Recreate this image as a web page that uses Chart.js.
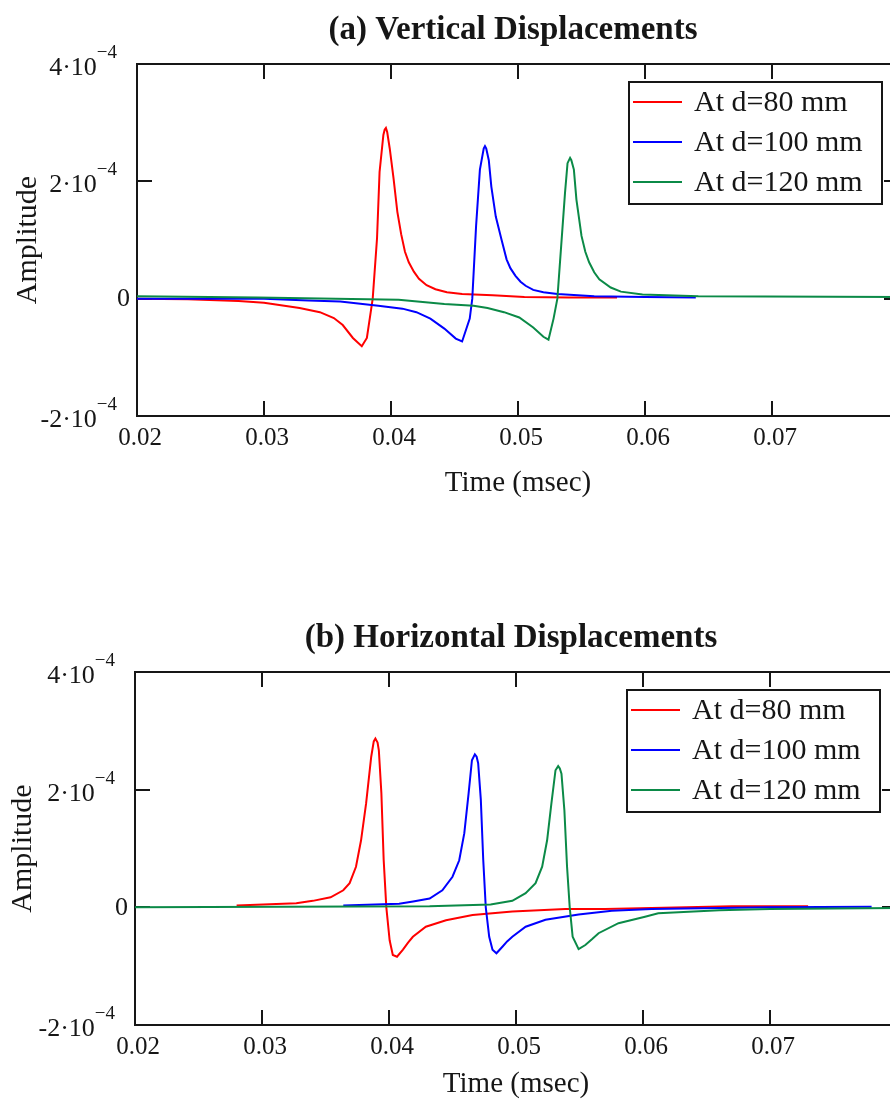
<!DOCTYPE html>
<html>
<head>
<meta charset="utf-8">
<title>Vertical and Horizontal Displacements</title>
<script src="https://cdn.jsdelivr.net/npm/chart.js@4.4.1/dist/chart.umd.min.js"></script>
<style>
    html, body { margin: 0; padding: 0; background: #fff; overflow: hidden; }
    body { width: 890px; height: 1103px; position: relative; }
    .panel { position: absolute; left: 0; width: 910px; }
    #panelA { top: 0; height: 552px; }
    #panelB { top: 552px; height: 551px; }
</style>
</head>
<body>
<div class="panel" id="panelA"><canvas id="chartA" width="910" height="552"></canvas></div>
<div class="panel" id="panelB"><canvas id="chartB" width="910" height="551"></canvas></div>
<script>
// Axis ticks (amplitude is kept in units of 10^-4)
const timeTicks = [0.02, 0.03, 0.04, 0.05, 0.06, 0.07];
const ampTicks = [-2, 0, 2, 4];
const ampExponent = -4;

const seriesLabels = ['At d=80 mm', 'At d=100 mm', 'At d=120 mm'];

// (a) Vertical displacements
const timeVert80 = [0.020, 0.024, 0.028, 0.030, 0.0328, 0.0344, 0.0355, 0.0362, 0.0370, 0.0377, 0.0381, 0.03856, 0.0389, 0.0391, 0.0394, 0.0395, 0.0396, 0.0397, 0.0399, 0.0402, 0.0405, 0.0408, 0.0411, 0.0414, 0.0418, 0.0422, 0.0428, 0.0435, 0.0444, 0.0456, 0.0480, 0.0505, 0.0540, 0.0578];
const ampVert80 = [0.00, -0.01, -0.04, -0.07, -0.16, -0.23, -0.33, -0.45, -0.67, -0.81, -0.67, 0.00, 1.03, 2.16, 2.79, 2.88, 2.91, 2.84, 2.56, 2.05, 1.48, 1.10, 0.80, 0.62, 0.46, 0.34, 0.23, 0.16, 0.11, 0.08, 0.06, 0.03, 0.02, 0.02];

const timeVert100 = [0.020, 0.030, 0.0335, 0.036, 0.039, 0.0409, 0.0420, 0.0431, 0.0442, 0.0451, 0.0456, 0.0462, 0.0464, 0.0467, 0.0470, 0.0473, 0.0474, 0.0475, 0.0477, 0.0479, 0.04825, 0.0487, 0.0491, 0.0494, 0.0498, 0.0502, 0.0506, 0.0512, 0.0520, 0.0531, 0.0560, 0.0600, 0.0640];
const ampVert100 = [0.00, 0.00, -0.03, -0.05, -0.12, -0.17, -0.23, -0.34, -0.51, -0.68, -0.73, -0.34, 0.00, 1.24, 2.20, 2.56, 2.60, 2.56, 2.36, 1.91, 1.40, 1.01, 0.67, 0.52, 0.39, 0.29, 0.22, 0.15, 0.11, 0.08, 0.04, 0.03, 0.02];

const timeVert120 = [0.020, 0.0295, 0.0406, 0.0442, 0.0465, 0.0476, 0.0489, 0.0501, 0.0512, 0.0520, 0.0524, 0.0528, 0.0531, 0.0534, 0.0537, 0.0539, 0.0541, 0.0542, 0.0544, 0.0546, 0.0550, 0.0553, 0.0556, 0.0560, 0.0564, 0.0573, 0.0581, 0.0598, 0.0642, 0.0800];
const ampVert120 = [0.04, 0.02, -0.02, -0.09, -0.12, -0.16, -0.23, -0.32, -0.49, -0.65, -0.70, -0.34, 0.00, 0.90, 1.80, 2.31, 2.40, 2.36, 2.20, 1.69, 1.07, 0.80, 0.62, 0.45, 0.33, 0.19, 0.12, 0.07, 0.04, 0.03];

// (b) Horizontal displacements
const timeHoriz80 = [0.028, 0.0327, 0.0340, 0.0354, 0.0364, 0.0369, 0.0374, 0.0378, 0.0382, 0.0386, 0.0388, 0.03893, 0.0391, 0.0392, 0.0394, 0.03958, 0.03979, 0.04005, 0.0403, 0.04063, 0.0411, 0.0415, 0.04188, 0.0429, 0.04449, 0.04658, 0.04971, 0.05389, 0.0570, 0.0607, 0.0670, 0.0730];
const ampHoriz80 = [0.03, 0.07, 0.11, 0.17, 0.29, 0.41, 0.69, 1.14, 1.77, 2.56, 2.82, 2.87, 2.80, 2.67, 1.94, 0.81, 0.00, -0.56, -0.81, -0.84, -0.72, -0.60, -0.50, -0.33, -0.22, -0.13, -0.07, -0.03, -0.03, -0.01, 0.02, 0.02];

const timeHoriz100 = [0.0364, 0.0408, 0.0419, 0.0432, 0.0442, 0.0450, 0.04553, 0.04593, 0.04627, 0.04653, 0.04676, 0.04690, 0.04702, 0.04723, 0.04742, 0.04762, 0.04789, 0.04815, 0.04846, 0.04893, 0.04930, 0.04971, 0.05076, 0.05232, 0.05493, 0.05755, 0.06068, 0.0700, 0.0780];
const ampHoriz100 = [0.03, 0.06, 0.10, 0.15, 0.29, 0.52, 0.80, 1.26, 1.94, 2.50, 2.60, 2.56, 2.45, 1.83, 0.81, 0.00, -0.50, -0.72, -0.78, -0.67, -0.58, -0.50, -0.33, -0.21, -0.12, -0.06, -0.03, 0.00, 0.01];

const timeHoriz120 = [0.020, 0.0432, 0.0480, 0.04971, 0.05076, 0.05154, 0.05206, 0.05245, 0.05279, 0.05311, 0.05332, 0.05345, 0.05358, 0.05381, 0.05402, 0.05423, 0.05446, 0.05493, 0.05546, 0.0560, 0.0565, 0.05807, 0.06016, 0.0612, 0.0628, 0.0660, 0.0700, 0.0800];
const ampHoriz120 = [0.00, 0.02, 0.05, 0.11, 0.24, 0.41, 0.69, 1.14, 1.77, 2.33, 2.40, 2.36, 2.27, 1.65, 0.69, 0.00, -0.50, -0.71, -0.64, -0.54, -0.44, -0.27, -0.16, -0.10, -0.085, -0.05, -0.03, -0.01];

const SERIF = "'Liberation Serif', 'Times New Roman', serif";
const INK = '#161616';
const COLORS = ['#ff0000', '#0000ff', '#0b8a47'];
const TICK_LEN = 15;

Chart.defaults.font.family = SERIF;
Chart.defaults.color = INK;

/**
 * Pair a time array with an amplitude array as {x, y} points
 */
function seriesPoints(times, amps) {
    return times.map((t, i) => ({ x: t, y: amps[i] }));
}

/**
 * Mathcad-like decorations: boxed frame with inward ticks,
 * plot title, exponent tick labels and the boxed legend
 */
const mathcadPlot = {
    id: 'mathcadPlot',

    beforeDatasetsDraw(chart) {
        const { ctx, chartArea: a, scales: { x, y } } = chart;
        ctx.save();
        ctx.strokeStyle = INK;
        ctx.lineWidth = 2;
        ctx.strokeRect(a.left, a.top, a.right - a.left, a.bottom - a.top);
        ctx.beginPath();
        timeTicks.forEach(t => {
            if (t <= x.min || t >= x.max) return;
            const px = Math.round(x.getPixelForValue(t));
            ctx.moveTo(px, a.top);
            ctx.lineTo(px, a.top + TICK_LEN);
            ctx.moveTo(px, a.bottom);
            ctx.lineTo(px, a.bottom - TICK_LEN);
        });
        ampTicks.forEach(v => {
            if (v <= y.min || v >= y.max) return;
            const py = Math.round(y.getPixelForValue(v));
            ctx.moveTo(a.left, py);
            ctx.lineTo(a.left + TICK_LEN, py);
            ctx.moveTo(a.right, py);
            ctx.lineTo(a.right - TICK_LEN, py);
        });
        ctx.stroke();
        ctx.restore();
    },

    afterDatasetsDraw(chart) {
        // legend box in the upper right corner of the plot
        const { ctx, chartArea: a } = chart;
        const boxRight = a.right - 17;
        const boxLeft = boxRight - 253;
        const boxTop = a.top + 18;
        const boxHeight = 122;

        ctx.save();
        ctx.fillStyle = '#fff';
        ctx.fillRect(boxLeft, boxTop, boxRight - boxLeft, boxHeight);
        ctx.strokeStyle = INK;
        ctx.lineWidth = 2;
        ctx.strokeRect(boxLeft, boxTop, boxRight - boxLeft, boxHeight);

        ctx.font = '30px ' + SERIF;
        ctx.textBaseline = 'middle';
        ctx.textAlign = 'left';
        chart.data.datasets.forEach((ds, i) => {
            const rowY = boxTop + 20 + i * 40;
            ctx.strokeStyle = ds.borderColor;
            ctx.lineWidth = 2;
            ctx.beginPath();
            ctx.moveTo(boxLeft + 4, rowY);
            ctx.lineTo(boxLeft + 53, rowY);
            ctx.stroke();
            ctx.fillStyle = INK;
            ctx.fillText(ds.label, boxLeft + 65, rowY + 1);
        });
        ctx.restore();
    },

    afterDraw(chart, args, opts) {
        const { ctx, chartArea: a, scales: { y } } = chart;
        ctx.save();
        ctx.fillStyle = INK;

        // plot title
        ctx.font = 'bold 33px ' + SERIF;
        ctx.textAlign = 'center';
        ctx.textBaseline = 'middle';
        ctx.fillText(opts.title, (a.left + a.right) / 2 - 5, a.top - 34);

        // amplitude tick labels written as  n·10^-4
        ctx.textBaseline = 'alphabetic';
        ctx.textAlign = 'right';
        ampTicks.forEach(v => {
            const py = y.getPixelForValue(v);
            if (v === 0) {
                ctx.font = '26px ' + SERIF;
                ctx.textBaseline = 'middle';
                ctx.fillText('0', a.left - 7, py + 1);
                ctx.textBaseline = 'alphabetic';
                return;
            }
            const expRight = a.left - 20;
            ctx.font = '19px ' + SERIF;
            const expText = '\u2212' + Math.abs(ampExponent);
            const expWidth = ctx.measureText(expText).width;
            ctx.fillText(expText, expRight, py - 6);
            ctx.font = '26px ' + SERIF;
            ctx.fillText(v + '\u00b710', expRight - expWidth, py + 11);
        });
        ctx.restore();
    }
};

/**
 * Build one displacement panel
 */
function makePanel(canvasId, cfg) {
    const canvas = document.getElementById(canvasId);
    return new Chart(canvas, {
        type: 'line',
        data: {
            datasets: cfg.series.map((s, i) => ({
                label: seriesLabels[i],
                data: seriesPoints(s.times, s.amps),
                borderColor: COLORS[i],
                backgroundColor: COLORS[i],
                borderWidth: 2,
                pointRadius: 0,
                tension: 0,
                fill: false,
                order: 3 - i
            }))
        },
        options: {
            responsive: false,
            animation: false,
            devicePixelRatio: 1,
            layout: {
                padding: {
                    top: cfg.plotTop,
                    left: 0,
                    right: canvas.width - cfg.plotRight,
                    bottom: 0
                }
            },
            plugins: {
                legend: { display: false },
                title: { display: false },
                tooltip: { enabled: false },
                mathcadPlot: { title: cfg.title }
            },
            scales: {
                x: {
                    type: 'linear',
                    min: 0.02,
                    max: 0.08,
                    afterBuildTicks: scale => {
                        scale.ticks = timeTicks.map(v => ({ value: v }));
                    },
                    afterFit: scale => {
                        scale.height = canvas.height - cfg.plotBottom;
                    },
                    grid: { display: false, drawTicks: false },
                    border: { display: false },
                    ticks: {
                        font: { size: 25 },
                        color: INK,
                        padding: 7,
                        labelOffset: 3,
                        maxRotation: 0,
                        autoSkip: false,
                        callback: v => v.toFixed(2)
                    },
                    title: {
                        display: true,
                        text: 'Time (msec)',
                        font: { size: 29 },
                        color: INK,
                        padding: { top: 0, bottom: cfg.xTitlePad }
                    }
                },
                y: {
                    type: 'linear',
                    min: -2,
                    max: 4,
                    afterBuildTicks: scale => {
                        scale.ticks = ampTicks.map(v => ({ value: v }));
                    },
                    afterFit: scale => {
                        scale.width = cfg.plotLeft;
                    },
                    grid: { display: false, drawTicks: false },
                    border: { display: false },
                    ticks: { display: false },
                    title: {
                        display: true,
                        text: 'Amplitude',
                        font: { size: 30 },
                        color: INK,
                        padding: { top: cfg.yTitlePad, bottom: 0 }
                    }
                }
            }
        },
        plugins: [mathcadPlot]
    });
}

document.addEventListener('DOMContentLoaded', function() {
    makePanel('chartA', {
        title: '(a) Vertical Displacements',
        series: [
            { times: timeVert80, amps: ampVert80 },
            { times: timeVert100, amps: ampVert100 },
            { times: timeVert120, amps: ampVert120 }
        ],
        plotLeft: 137, plotTop: 64, plotRight: 899, plotBottom: 416,
        xTitlePad: 51, yTitlePad: 10
    });

    makePanel('chartB', {
        title: '(b) Horizontal Displacements',
        series: [
            { times: timeHoriz80, amps: ampHoriz80 },
            { times: timeHoriz100, amps: ampHoriz100 },
            { times: timeHoriz120, amps: ampHoriz120 }
        ],
        plotLeft: 135, plotTop: 120, plotRight: 897, plotBottom: 473,
        xTitlePad: 1, yTitlePad: 5
    });
});
</script>
</body>
</html>
